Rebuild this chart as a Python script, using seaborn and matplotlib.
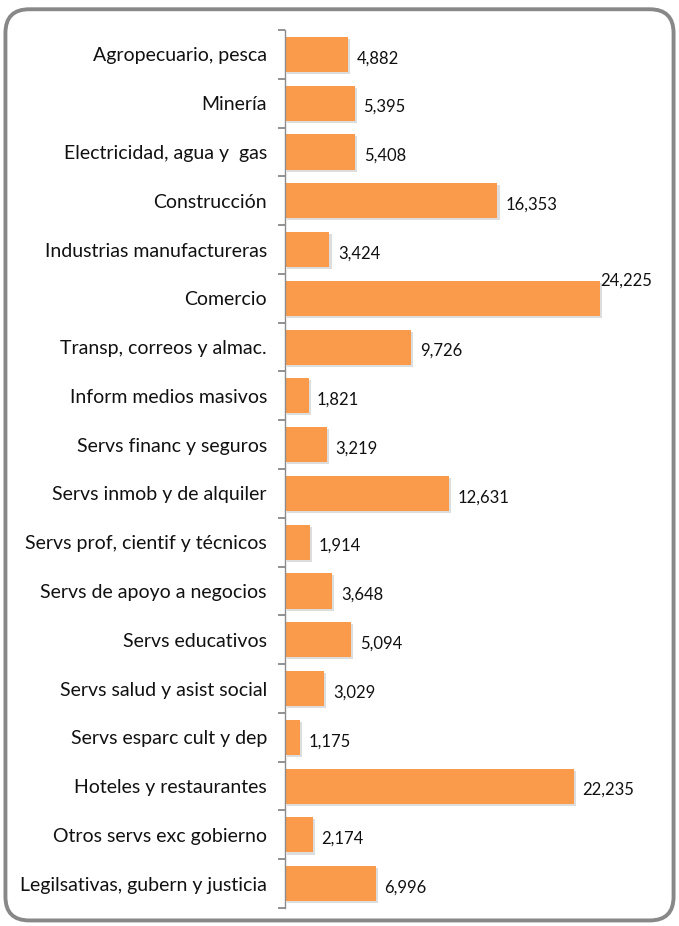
import matplotlib
matplotlib.use("Agg")
import matplotlib.pyplot as plt
import matplotlib.patheffects as pe
from matplotlib.patches import FancyBboxPatch
import numpy as np
import pandas as pd
import seaborn as sns

# Data
sectores = [
    "Agropecuario, pesca",
    "Minería",
    "Electricidad, agua y  gas",
    "Construcción",
    "Industrias manufactureras",
    "Comercio",
    "Transp, correos y almac.",
    "Inform medios masivos",
    "Servs financ y seguros",
    "Servs inmob y de alquiler",
    "Servs prof, cientif y técnicos",
    "Servs de apoyo a negocios",
    "Servs educativos",
    "Servs salud y asist social",
    "Servs esparc cult y dep",
    "Hoteles y restaurantes",
    "Otros servs exc gobierno",
    "Legilsativas, gubern y justicia",
]
valores = [4882, 5395, 5408, 16353, 3424, 24225, 9726, 1821, 3219,
           12631, 1914, 3648, 5094, 3029, 1175, 22235, 2174, 6996]

sns.set_theme(style="white")
plt.rcParams["font.family"] = ["Lato", "DejaVu Sans"]

df = pd.DataFrame({"sector": sectores, "valor": valores})

fig = plt.figure(figsize=(6.79, 9.26), dpi=100)
ax = fig.add_axes([0.4197, 0.0194, 0.555, 0.9482])

sns.barplot(data=df, y="sector", x="valor", orient="h", color="#F99B4A",
            saturation=1, width=0.72, ax=ax)

for bar in ax.patches:
    bar.set_edgecolor("none")
    bar.set_path_effects([pe.SimplePatchShadow(offset=(1.5, -1.5), alpha=0.22,
                                               shadow_rgbFace="#666666"),
                          pe.Normal()])

n = len(sectores)
ax.set_xlim(0, 29000)
ax.set_ylim(n - 0.5, -0.5)
ax.set_xlabel("")
ax.set_ylabel("")
ax.set_xticks([])

for s in ["top", "right", "bottom"]:
    ax.spines[s].set_visible(False)
ax.spines["left"].set_color("#8C8C8C")
ax.spines["left"].set_linewidth(1.0)

# category labels, with small outward ticks at the category boundaries
ax.tick_params(axis="y", which="major", left=False, length=0, pad=13,
               labelsize=14, labelcolor="#111111")
ax.set_yticks(np.arange(-0.5, n, 1.0), minor=True)
ax.tick_params(axis="y", which="minor", left=True, length=5, width=1.2,
               color="#7F7F7F", direction="out")

vmax = max(valores)
for i, v in enumerate(valores):
    txt = f"{v:,}"
    if v == vmax:
        ax.text(v, i - 0.36, txt, ha="left", va="center", fontsize=12, color="#111111")
    else:
        ax.text(v + 650, i + 0.08, txt, ha="left", va="center", fontsize=12, color="#111111")

# rounded gray border around the chart area
border = FancyBboxPatch((0.008, 0.006), 0.984, 0.984,
                        boxstyle="round,pad=0,rounding_size=0.035",
                        transform=fig.transFigure, facecolor="none",
                        edgecolor="#888888", linewidth=2.8, mutation_aspect=679 / 926)
fig.patches.append(border)

fig.savefig("out.png", dpi=100)
